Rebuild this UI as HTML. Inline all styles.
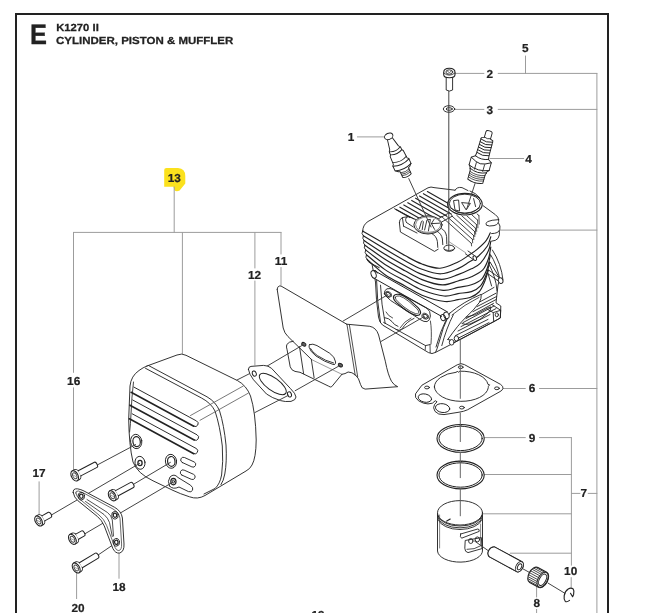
<!DOCTYPE html>
<html lang="en"><head><meta charset="utf-8"><title>K1270 II - Cylinder, Piston &amp; Muffler</title>
<style>
html,body{margin:0;padding:0;background:#fff}
body{width:647px;height:613px;overflow:hidden}
svg{display:block;will-change:transform}
text{font-family:"Liberation Sans",sans-serif;font-weight:bold;fill:#222;text-rendering:geometricPrecision}
path,line,ellipse,circle,polyline,rect{stroke-linecap:round;stroke-linejoin:round}
</style></head><body>
<svg width="647" height="613" viewBox="0 0 647 613">
<!-- page frame -->
<rect x="0" y="0" width="647" height="613" fill="#fff" stroke="none"/>
<path d="M16,614 V14 H608 V614" stroke="#222" stroke-width="2" fill="none" style="stroke-linecap:butt;stroke-linejoin:miter"/>
<!-- header -->
<text transform="translate(30.1,44.2) scale(0.9,1)" font-size="28.2" stroke="#222" stroke-width="0.35">E</text>
<text x="56.2" y="31.4" font-size="10.3" textLength="42.6" lengthAdjust="spacingAndGlyphs" stroke="#222" stroke-width="0.25">K1270 II</text>
<text x="56" y="44.2" font-size="10.3" textLength="177.3" lengthAdjust="spacingAndGlyphs" stroke="#222" stroke-width="0.25">CYLINDER, PISTON &amp; MUFFLER</text>
<!-- highlighted reference 13 -->
<path d="M166.5,168 H178 Q185.3,168.5 185.3,176 V183.4 L179.6,190.6 Q176,192.2 174.4,190 L173.4,186.7 H164.2 V170 Q164.2,168 166.5,168 Z" stroke="none" stroke-width="0" fill="#fbe11d" />
<!-- labels -->
<text transform="translate(174.3,182.3) scale(1.02,1)" font-size="11.6" text-anchor="middle" stroke="#222" stroke-width="0.2">13</text>
<text transform="translate(73.7,384.6) scale(1.02,1)" font-size="11.6" text-anchor="middle" stroke="#222" stroke-width="0.2">16</text>
<text transform="translate(39,477.1) scale(1.02,1)" font-size="11.6" text-anchor="middle" stroke="#222" stroke-width="0.2">17</text>
<text transform="translate(119.1,591.3) scale(1.02,1)" font-size="11.6" text-anchor="middle" stroke="#222" stroke-width="0.2">18</text>
<text transform="translate(78,611.9) scale(1.02,1)" font-size="11.6" text-anchor="middle" stroke="#222" stroke-width="0.2">20</text>
<text transform="translate(254.5,279.0) scale(1.02,1)" font-size="11.6" text-anchor="middle" stroke="#222" stroke-width="0.2">12</text>
<text transform="translate(281,264.9) scale(1.02,1)" font-size="11.6" text-anchor="middle" stroke="#222" stroke-width="0.2">11</text>
<text transform="translate(351,140.9) scale(1.02,1)" font-size="11.6" text-anchor="middle" stroke="#222" stroke-width="0.2">1</text>
<text transform="translate(489.9,78.0) scale(1.02,1)" font-size="11.6" text-anchor="middle" stroke="#222" stroke-width="0.2">2</text>
<text transform="translate(489.9,113.8) scale(1.02,1)" font-size="11.6" text-anchor="middle" stroke="#222" stroke-width="0.2">3</text>
<text transform="translate(528.6,162.8) scale(1.02,1)" font-size="11.6" text-anchor="middle" stroke="#222" stroke-width="0.2">4</text>
<text transform="translate(525.3,52.3) scale(1.02,1)" font-size="11.6" text-anchor="middle" stroke="#222" stroke-width="0.2">5</text>
<text transform="translate(532,392.3) scale(1.02,1)" font-size="11.6" text-anchor="middle" stroke="#222" stroke-width="0.2">6</text>
<text transform="translate(532,442.3) scale(1.02,1)" font-size="11.6" text-anchor="middle" stroke="#222" stroke-width="0.2">9</text>
<text transform="translate(583.8,497.1) scale(1.02,1)" font-size="11.6" text-anchor="middle" stroke="#222" stroke-width="0.2">7</text>
<text transform="translate(570.7,574.9) scale(1.02,1)" font-size="11.6" text-anchor="middle" stroke="#222" stroke-width="0.2">10</text>
<text transform="translate(536.8,606.6) scale(1.02,1)" font-size="11.6" text-anchor="middle" stroke="#222" stroke-width="0.2">8</text>
<text transform="translate(318,618.5) scale(1.02,1)" font-size="11.6" text-anchor="middle" stroke="#222" stroke-width="0.2">19</text>
<!-- leader lines -->
<line x1="174.2" y1="187" x2="174.2" y2="232.4" stroke="#9c9c9c" stroke-width="1"/>
<line x1="73.5" y1="232.4" x2="281" y2="232.4" stroke="#9c9c9c" stroke-width="1"/>
<line x1="73.5" y1="232.4" x2="73.5" y2="372.4" stroke="#9c9c9c" stroke-width="1"/>
<line x1="73.5" y1="387.8" x2="73.5" y2="470.8" stroke="#9c9c9c" stroke-width="1"/>
<line x1="182.4" y1="232.4" x2="182.4" y2="353.5" stroke="#9c9c9c" stroke-width="1"/>
<line x1="254.9" y1="232.4" x2="254.9" y2="268" stroke="#9c9c9c" stroke-width="1"/>
<line x1="254.9" y1="281" x2="254.9" y2="365" stroke="#9c9c9c" stroke-width="1"/>
<line x1="281" y1="232.4" x2="281" y2="254" stroke="#9c9c9c" stroke-width="1"/>
<line x1="281" y1="267.5" x2="281" y2="285" stroke="#9c9c9c" stroke-width="1"/>
<line x1="39.1" y1="481.8" x2="39.1" y2="514.8" stroke="#9c9c9c" stroke-width="1"/>
<line x1="119" y1="550" x2="119" y2="578.3" stroke="#9c9c9c" stroke-width="1"/>
<line x1="76.6" y1="573.6" x2="76.6" y2="598.6" stroke="#9c9c9c" stroke-width="1"/>
<line x1="357.4" y1="136.9" x2="384.7" y2="136.9" stroke="#9c9c9c" stroke-width="1"/>
<line x1="455.4" y1="73.4" x2="483.9" y2="73.4" stroke="#9c9c9c" stroke-width="1"/>
<line x1="498.2" y1="73.4" x2="596.9" y2="73.4" stroke="#9c9c9c" stroke-width="1"/>
<line x1="455.4" y1="109.4" x2="483.9" y2="109.4" stroke="#9c9c9c" stroke-width="1"/>
<line x1="498.2" y1="109.4" x2="596.9" y2="109.4" stroke="#9c9c9c" stroke-width="1"/>
<line x1="525.5" y1="56" x2="525.5" y2="73.4" stroke="#9c9c9c" stroke-width="1"/>
<line x1="490" y1="158.5" x2="523.7" y2="158.5" stroke="#9c9c9c" stroke-width="1"/>
<line x1="596.9" y1="73.4" x2="596.9" y2="614" stroke="#9c9c9c" stroke-width="1"/>
<line x1="499.4" y1="230.1" x2="596.9" y2="230.1" stroke="#9c9c9c" stroke-width="1"/>
<line x1="503" y1="388.5" x2="525.3" y2="388.5" stroke="#9c9c9c" stroke-width="1"/>
<line x1="539.5" y1="388.5" x2="596.9" y2="388.5" stroke="#9c9c9c" stroke-width="1"/>
<line x1="484.4" y1="437.6" x2="525.3" y2="437.6" stroke="#9c9c9c" stroke-width="1"/>
<line x1="539.5" y1="437.6" x2="571.4" y2="437.6" stroke="#9c9c9c" stroke-width="1"/>
<line x1="571.4" y1="437.6" x2="571.4" y2="565.2" stroke="#9c9c9c" stroke-width="1"/>
<line x1="571.2" y1="577.6" x2="571.2" y2="587.4" stroke="#9c9c9c" stroke-width="1"/>
<line x1="484" y1="474.5" x2="571.4" y2="474.5" stroke="#9c9c9c" stroke-width="1"/>
<line x1="483" y1="513.8" x2="571.4" y2="513.8" stroke="#9c9c9c" stroke-width="1"/>
<line x1="510.3" y1="553.2" x2="571.4" y2="553.2" stroke="#9c9c9c" stroke-width="1"/>
<line x1="571.4" y1="493.4" x2="580" y2="493.4" stroke="#9c9c9c" stroke-width="1"/>
<line x1="588.2" y1="493.4" x2="596.9" y2="493.4" stroke="#9c9c9c" stroke-width="1"/>
<line x1="536.6" y1="583" x2="536.6" y2="597" stroke="#9c9c9c" stroke-width="1"/>
<line x1="536.6" y1="609.4" x2="536.6" y2="614" stroke="#9c9c9c" stroke-width="1"/>
<!-- muffler (13) -->
<path d="M147,366 L177,355 Q182,353 186,355.3 L237.5,380.6 Q246.5,385.5 250.5,396 Q255.6,412 256.2,440 Q256,458 252,465 Q250,469 246,471 L205,495.5 Q197.5,499.8 189.5,496.8 Q180,493.8 173,490.4 L153,480.8 Q137.5,473.6 133,462 Q129,445 128.7,419 L130,386 Q131,376 139,370.5 Q143,367.5 147,366 Z" stroke="#222" stroke-width="0.92" fill="#fff" />
<path d="M148.5,365.5 L207,396.8 Q216,402 219.6,411 Q224,425 226,445 Q227,462 224.8,474 Q223.5,481 221,484.6" stroke="#222" stroke-width="0.92" fill="none" />
<path d="M145.5,368.3 L201.5,398 Q211,403 215,411 Q220,426 222.3,446 Q223.4,462 221.6,475 Q220,484 215,488.5 L204,494" stroke="#222" stroke-width="0.92" fill="none" />
<path d="M133.5,382 Q131.6,398 131,414 Q130.6,424 129.6,432" stroke="#222" stroke-width="0.85" fill="none" />
<line x1="190.5" y1="415.5" x2="243.3" y2="386" stroke="#555" stroke-width="0.8"/>
<line x1="200" y1="420.3" x2="248.2" y2="393.2" stroke="#555" stroke-width="0.8"/>
<path d="M133.9,387.1 L196.6,421.0 A2.9,2.9 0 0 1 193.8,426.2" stroke="#222" stroke-width="0.95" fill="none" />
<path d="M131.1,392.3 L193.8,426.2" stroke="#222" stroke-width="1.6" fill="none" />
<path d="M132.7,400.0 L197.0,434.8 A2.9,2.9 0 0 1 194.2,440.0" stroke="#222" stroke-width="0.95" fill="none" />
<path d="M129.9,405.2 L194.2,440.0" stroke="#222" stroke-width="1.6" fill="none" />
<path d="M132.2,413.8 L196.6,448.7 A2.9,2.9 0 0 1 193.8,453.7" stroke="#222" stroke-width="0.95" fill="none" />
<path d="M129.4,418.8 L193.8,453.7" stroke="#222" stroke-width="1.6" fill="none" />
<path d="M182.3,462.5 L191.9,466.9 A2.7,2.7 0 0 0 194.1,461.9 L184.5,457.5 A2.7,2.7 0 0 0 182.3,462.5 Z" stroke="#222" stroke-width="0.92" fill="none" />
<path d="M181.9,475.1 L191.3,479.3 A2.7,2.7 0 0 0 193.5,474.3 L184.1,470.1 A2.7,2.7 0 0 0 181.9,475.1 Z" stroke="#222" stroke-width="0.92" fill="none" />
<ellipse cx="136.2" cy="441.5" rx="5.6" ry="7.2" stroke="#222" stroke-width="0.92" fill="none" transform="rotate(-8 136.2 441.5)"/>
<ellipse cx="136.6" cy="441.6" rx="3.7" ry="5.0" stroke="#222" stroke-width="1.2" fill="none" transform="rotate(-8 136.6 441.6)"/>
<ellipse cx="140" cy="462.8" rx="5.0" ry="6.5" stroke="#222" stroke-width="0.92" fill="none" transform="rotate(-8 140 462.8)"/>
<ellipse cx="140" cy="463" rx="2.1" ry="2.6" stroke="#222" stroke-width="1.3" fill="none"/>
<ellipse cx="171" cy="461.3" rx="5.6" ry="7.0" stroke="#222" stroke-width="0.92" fill="none" transform="rotate(-8 171 461.3)"/>
<ellipse cx="171.3" cy="461.4" rx="3.7" ry="4.9" stroke="#222" stroke-width="1.2" fill="none" transform="rotate(-8 171.3 461.4)"/>
<path d="M169.5,486 Q167,481 170,477 Q174,473 178,477.5 L190.5,485.2 Q193.6,487.5 192.6,490.2 Q191.3,492.6 188.5,491.6 L179,487 Q173,490 169.5,486 Z" stroke="#222" stroke-width="0.92" fill="none" />
<ellipse cx="173.4" cy="481.6" rx="2.6" ry="3.2" stroke="#222" stroke-width="1.2" fill="none"/>
<ellipse cx="173.4" cy="481.6" rx="1.1" ry="1.4" stroke="#222" stroke-width="1" fill="none"/>
<!-- assembly axis lines (left group) -->
<line x1="96.5" y1="465.4" x2="135.6" y2="444.6" stroke="#444" stroke-width="1"/>
<line x1="50.4" y1="515.6" x2="139.6" y2="463.4" stroke="#444" stroke-width="1"/>
<line x1="133" y1="484.6" x2="170.4" y2="462.4" stroke="#444" stroke-width="1"/>
<line x1="83.7" y1="534.5" x2="172.8" y2="482.2" stroke="#444" stroke-width="1"/>
<line x1="98.4" y1="554.8" x2="116" y2="542.8" stroke="#444" stroke-width="1"/>
<!-- socket head bolts -->
<g transform="translate(74.7,475.8) rotate(-27.5)">
<path d="M0,-5.5 L2.6,-5.5 A3.3,5.5 0 0 1 2.6,5.5 L0,5.5" stroke="#222" stroke-width="1" fill="#fff" />
<path d="M5.40,-2.9 L23.70,-2.9 A1.5,2.9 0 0 1 23.70,2.9 L5.40,2.9" stroke="#222" stroke-width="1" fill="#fff" />
<ellipse cx="0" cy="0" rx="3.3" ry="5.5" stroke="#222" stroke-width="1.05" fill="#fff"/>
<ellipse cx="0.1" cy="0" rx="1.9139999999999997" ry="3.19" stroke="#444" stroke-width="0.9" fill="none"/>
<path d="M-0.99,-1.38 L0.99,1.65" stroke="#777" stroke-width="0.6" fill="none" />
</g>
<g transform="translate(38.6,521.0) rotate(-29)">
<path d="M0,-5.5 L2.6,-5.5 A3.3,5.5 0 0 1 2.6,5.5 L0,5.5" stroke="#222" stroke-width="1" fill="#fff" />
<path d="M5.40,-2.9 L12.70,-2.9 A1.5,2.9 0 0 1 12.70,2.9 L5.40,2.9" stroke="#222" stroke-width="1" fill="#fff" />
<ellipse cx="0" cy="0" rx="3.3" ry="5.5" stroke="#222" stroke-width="1.05" fill="#fff"/>
<ellipse cx="0.1" cy="0" rx="1.9139999999999997" ry="3.19" stroke="#444" stroke-width="0.9" fill="none"/>
<path d="M-0.99,-1.38 L0.99,1.65" stroke="#777" stroke-width="0.6" fill="none" />
</g>
<g transform="translate(112.2,495.8) rotate(-28.5)">
<path d="M0,-5.5 L2.6,-5.5 A3.3,5.5 0 0 1 2.6,5.5 L0,5.5" stroke="#222" stroke-width="1" fill="#fff" />
<path d="M5.40,-2.9 L22.70,-2.9 A1.5,2.9 0 0 1 22.70,2.9 L5.40,2.9" stroke="#222" stroke-width="1" fill="#fff" />
<ellipse cx="0" cy="0" rx="3.3" ry="5.5" stroke="#222" stroke-width="1.05" fill="#fff"/>
<ellipse cx="0.1" cy="0" rx="1.9139999999999997" ry="3.19" stroke="#444" stroke-width="0.9" fill="none"/>
<path d="M-0.99,-1.38 L0.99,1.65" stroke="#777" stroke-width="0.6" fill="none" />
</g>
<g transform="translate(72.4,539.3) rotate(-29)">
<path d="M0,-5.5 L2.6,-5.5 A3.3,5.5 0 0 1 2.6,5.5 L0,5.5" stroke="#222" stroke-width="1" fill="#fff" />
<path d="M5.40,-2.9 L12.20,-2.9 A1.5,2.9 0 0 1 12.20,2.9 L5.40,2.9" stroke="#222" stroke-width="1" fill="#fff" />
<ellipse cx="0" cy="0" rx="3.3" ry="5.5" stroke="#222" stroke-width="1.05" fill="#fff"/>
<ellipse cx="0.1" cy="0" rx="1.9139999999999997" ry="3.19" stroke="#444" stroke-width="0.9" fill="none"/>
<path d="M-0.99,-1.38 L0.99,1.65" stroke="#777" stroke-width="0.6" fill="none" />
</g>
<g transform="translate(76.2,568.0) rotate(-31)">
<path d="M0,-5.5 L2.6,-5.5 A3.3,5.5 0 0 1 2.6,5.5 L0,5.5" stroke="#222" stroke-width="1" fill="#fff" />
<path d="M5.40,-2.9 L24.10,-2.9 A1.5,2.9 0 0 1 24.10,2.9 L5.40,2.9" stroke="#222" stroke-width="1" fill="#fff" />
<ellipse cx="0" cy="0" rx="3.3" ry="5.5" stroke="#222" stroke-width="1.05" fill="#fff"/>
<ellipse cx="0.1" cy="0" rx="1.9139999999999997" ry="3.19" stroke="#444" stroke-width="0.9" fill="none"/>
<path d="M-0.99,-1.38 L0.99,1.65" stroke="#777" stroke-width="0.6" fill="none" />
</g>
<!-- bracket (18) -->
<path d="M73.2,492.6 Q72.6,488.4 77.4,488.8 Q81,489.4 84,491 L114.4,507.2 Q121.4,511 122.4,518 L124,544 Q124.4,551.4 119.8,553 Q115.4,553.8 112.8,548.4 L104.3,526 Q101.8,520 97.3,516.4 L77.8,500.6 Q74,497.4 73.2,492.6 Z" stroke="#222" stroke-width="0.92" fill="#fff" />
<path d="M75.8,493 Q75.4,490.6 78.6,491 L84,493.2 L113,509 Q119.2,512.4 120,518.4 L121.6,544 Q121.8,550 118.8,550.6 Q116.4,550.8 115,547.4 L106.6,525.4 Q104,519 99,515 L79.8,499.2 Q76.4,496.4 75.8,493 Z" stroke="#444" stroke-width="0.8" fill="none" />
<path d="M87,499.5 L107.5,512.5 Q111.5,515.5 112.3,520 L113.5,536" stroke="#222" stroke-width="0.8" fill="none" />
<path d="M85.5,501.5 L104,514.5 Q108,518 109.5,522.5 L112.3,536.5" stroke="#222" stroke-width="0.8" fill="none" />
<ellipse cx="81.3" cy="496.2" rx="3.2" ry="3.8" stroke="#222" stroke-width="0.9" fill="none" transform="rotate(-10 81.3 496.2)"/>
<ellipse cx="81.3" cy="496.2" rx="1.7" ry="2.1" stroke="#222" stroke-width="1.2" fill="none" transform="rotate(-10 81.3 496.2)"/>
<ellipse cx="115" cy="515.2" rx="3.2" ry="3.8" stroke="#222" stroke-width="0.9" fill="none" transform="rotate(-10 115 515.2)"/>
<ellipse cx="115" cy="515.2" rx="1.7" ry="2.1" stroke="#222" stroke-width="1.2" fill="none" transform="rotate(-10 115 515.2)"/>
<ellipse cx="116.3" cy="542.3" rx="3.2" ry="3.8" stroke="#222" stroke-width="0.9" fill="none" transform="rotate(-10 116.3 542.3)"/>
<ellipse cx="116.3" cy="542.3" rx="1.7" ry="2.1" stroke="#222" stroke-width="1.2" fill="none" transform="rotate(-10 116.3 542.3)"/>
<!-- gasket (12) -->
<path d="M248.4,369.4 Q248.3,366.6 251,366.4 L263.4,365.4 Q268,365.3 271.5,368.3 L290.5,388.6 Q295.6,393.6 296,397 Q296,400 291,401.4 Q285,402 280.5,400.6 Q272,398 266.5,394 L253.5,379.8 Q249,374 248.4,369.4 Z" stroke="#222" stroke-width="0.92" fill="#fff" />
<ellipse cx="272.8" cy="384" rx="16" ry="6.3" transform="rotate(36 272.8 384)" stroke="#222" stroke-width="1" fill="#fff"/>
<ellipse cx="254.3" cy="373.6" rx="1.9" ry="2.7" stroke="#222" stroke-width="1" fill="none" transform="rotate(-20 254.3 373.6)"/>
<ellipse cx="289.5" cy="394.4" rx="1.9" ry="2.7" stroke="#222" stroke-width="1" fill="none" transform="rotate(-20 289.5 394.4)"/>
<!-- heat shield (11) -->
<path d="M293.3,341.2 Q289,341.4 286.8,344.5 Q286,347 287.1,349.8 L290.2,366.8 Q291.5,370.6 295,371.4 L300,372.3 L328.7,386.2 Q330.3,387.6 331.8,386.6 L341.9,374.3" stroke="#222" stroke-width="0.92" fill="none" />
<line x1="299.5" y1="346.7" x2="303.6" y2="373.7" stroke="#222" stroke-width="0.9"/>
<line x1="311.3" y1="359.3" x2="314.1" y2="377.7" stroke="#222" stroke-width="0.9"/>
<path d="M277.2,289.4 Q277.4,285.4 281,286 L346.7,324.2" stroke="#222" stroke-width="0.92" fill="none" />
<path d="M277.2,289.4 L283.2,328 Q284.4,333.2 288,336.6 L311.6,359.6" stroke="#222" stroke-width="0.92" fill="none" />
<path d="M311.6,359.6 L341.9,374.3" stroke="#555" stroke-width="0.6" fill="none" />
<line x1="347" y1="324.6" x2="355.2" y2="375.2" stroke="#222" stroke-width="0.8"/>
<line x1="349.4" y1="324.8" x2="357.7" y2="376.8" stroke="#222" stroke-width="0.8"/>
<path d="M346.7,324.2 L369.8,326.3 Q376.3,327.6 378.6,335 L385.3,361.2 Q388,375 391.5,381.3 Q394,385.3 397.7,386.7 L365.1,389.1 Q361.3,388.6 360.5,384.4 Q359,378 355.5,375 Q352,372 348.1,372 L345,373.6 L341.9,374.3" stroke="#222" stroke-width="0.92" fill="none" />
<path d="M309.6,344.6 Q312.6,343.2 317,345.6 L329.6,353.2 Q335,356.8 335.6,362 Q335.7,365.2 333,364.4 Q324.6,362 316,356 Q310,351.4 309.1,347.2 Q308.9,345.3 309.6,344.6 Z" stroke="#222" stroke-width="0.92" fill="none" />
<path d="M310.6,348.6 Q312,352 317.4,355.6 Q325.5,361 333.6,363" stroke="#222" stroke-width="0.9" fill="none" />
<ellipse cx="303.8" cy="344.3" rx="2.3" ry="1.6" stroke="#222" stroke-width="1" fill="#666" transform="rotate(30 303.8 344.3)"/>
<ellipse cx="340.4" cy="365.1" rx="2.3" ry="1.6" stroke="#222" stroke-width="1" fill="#666" transform="rotate(30 340.4 365.1)"/>
<line x1="237" y1="380" x2="249.6" y2="373.6" stroke="#444" stroke-width="1"/>
<line x1="267.3" y1="366" x2="303" y2="344.9" stroke="#444" stroke-width="1"/>
<line x1="254.8" y1="412.6" x2="288.6" y2="395.2" stroke="#444" stroke-width="1"/>
<line x1="295.2" y1="390.7" x2="340" y2="365.4" stroke="#444" stroke-width="1"/>
<!-- bolt (2) and washer (3) -->
<path d="M446.2,76 V90 Q449.4,92.2 452.6,90 V76" stroke="#222" stroke-width="0.92" fill="#fff" />
<path d="M443.7,72.4 Q443.7,68.3 449.3,68.3 Q455,68.3 455,72.4 V74.4 Q455,77.7 449.3,77.7 Q443.7,77.7 443.7,74.4 Z" stroke="#222" stroke-width="1.1" fill="#fff" />
<ellipse cx="449.3" cy="72" rx="3.4" ry="2.2" stroke="#222" stroke-width="0.9" fill="none"/>
<path d="M443.8,73 Q449.3,77.6 454.9,73" stroke="#222" stroke-width="0.8" fill="none" />
<path d="M447.6,71.4 L449.4,72.6 L451.2,71.2" stroke="#222" stroke-width="0.7" fill="none" />
<ellipse cx="449" cy="109" rx="5.7" ry="3.3" stroke="#222" stroke-width="0.92" fill="#fff"/>
<ellipse cx="449.2" cy="109" rx="3.1" ry="1.3" stroke="#222" stroke-width="0.92" fill="none"/>
<line x1="448.8" y1="106" x2="448.8" y2="111" stroke="#444" stroke-width="1"/>
<!-- decompression valve (1) -->
<g transform="translate(388.7,136.3) rotate(-25)">
<path d="M-2.6,2.6 L-4.8,12.8 Q-6.2,13.8 -6.2,15.3 L-6.2,17.6 L-7.2,19 L-7.6,27.4 L-8.8,28.6 L-8.8,34 L-6.2,36.2 L-4.6,36.8 L-4.6,43.4 Q0,45.4 4.6,43.4 L4.6,36.8 L6.2,36.2 L8.8,34 L8.8,28.6 L7.6,27.4 L7.2,19 L6.2,17.6 L6.2,15.3 Q6.2,13.8 4.8,12.8 L2.6,2.6 Z" stroke="#222" stroke-width="0.92" fill="#fff" />
<ellipse cx="0" cy="0" rx="4.4" ry="3.1" stroke="#222" stroke-width="0.92" fill="#fff"/>
<path d="M-6,14.4 Q0,17.6 6,14.4" stroke="#222" stroke-width="0.9" fill="none" />
<path d="M-6.2,17.6 Q0,20.8 6.2,17.6" stroke="#222" stroke-width="0.9" fill="none" />
<path d="M-7.5,25.6 Q0,29.2 7.5,25.6" stroke="#222" stroke-width="0.9" fill="none" />
<path d="M-8.8,29 Q0,32.6 8.8,29" stroke="#222" stroke-width="0.9" fill="none" />
<path d="M-8.8,34 Q0,37.6 8.8,34" stroke="#222" stroke-width="0.9" fill="none" />
<path d="M-4.6,38.2 Q0,40.0 4.6,38.2" stroke="#222" stroke-width="0.7" fill="none" />
<path d="M-4.6,39.8 Q0,41.599999999999994 4.6,39.8" stroke="#222" stroke-width="0.7" fill="none" />
<path d="M-4.6,41.4 Q0,43.199999999999996 4.6,41.4" stroke="#222" stroke-width="0.7" fill="none" />
</g>
<!-- spark plug (4) -->
<g transform="translate(489.3,131.6) rotate(15.8)">
<path d="M-3.2,1 Q-3.2,-0.8 0,-0.8 Q3.2,-0.8 3.2,1 L3.2,7 L6,8 L6.4,24 L6.8,27 L10.4,29.5 L10.4,37.5 L8.6,39.5 L8.6,41 L7.8,42 L7.8,51.6 Q0,54.6 -7.8,51.6 L-7.8,42 L-8.6,41 L-8.6,39.5 L-10.4,37.5 L-10.4,29.5 L-6.8,27 L-6.4,24 L-6,8 L-3.2,7 Z" stroke="#222" stroke-width="0.92" fill="#fff" />
<path d="M-3.2,6.6 Q0,8.2 3.2,6.6" stroke="#222" stroke-width="0.8" fill="none" />
<path d="M-6.2,9.4 Q0,12.0 6.2,9.4" stroke="#222" stroke-width="0.9" fill="none" />
<path d="M-6.2,12.2 Q0,14.799999999999999 6.2,12.2" stroke="#222" stroke-width="0.9" fill="none" />
<path d="M-6.2,15 Q0,17.6 6.2,15" stroke="#222" stroke-width="0.9" fill="none" />
<path d="M-6.2,17.8 Q0,20.400000000000002 6.2,17.8" stroke="#222" stroke-width="0.9" fill="none" />
<path d="M-6.2,20.6 Q0,23.200000000000003 6.2,20.6" stroke="#222" stroke-width="0.9" fill="none" />
<path d="M-6.2,23.4 Q0,26.0 6.2,23.4" stroke="#222" stroke-width="0.9" fill="none" />
<path d="M-6.8,27 Q0,30 6.8,27" stroke="#222" stroke-width="0.9" fill="none" />
<path d="M-10.4,29.5 Q-4,33.4 0,33.4 Q4,33.4 10.4,29.5" stroke="#222" stroke-width="0.9" fill="none" />
<path d="M-10.4,37.5 Q0,42.2 10.4,37.5" stroke="#222" stroke-width="0.9" fill="none" />
<path d="M-4,33.3 V40.2 M4.5,33.2 V40.1" stroke="#222" stroke-width="0.8" fill="none" />
<path d="M-8.6,40.4 Q0,44.6 8.6,40.4" stroke="#222" stroke-width="0.9" fill="none" />
<path d="M-7.8,43.5 Q0,46.5 7.8,43.5" stroke="#222" stroke-width="0.7" fill="none" />
<path d="M-7.8,45.4 Q0,48.4 7.8,45.4" stroke="#222" stroke-width="0.7" fill="none" />
<path d="M-7.8,47.3 Q0,50.3 7.8,47.3" stroke="#222" stroke-width="0.7" fill="none" />
<path d="M-7.8,49.2 Q0,52.2 7.8,49.2" stroke="#222" stroke-width="0.7" fill="none" />
</g>
<!-- cylinder base (lower) -->
<path d="M373.5,272 L375.5,282 Q376,300 378.5,317 Q379.4,322.6 382.5,325 L428.5,352.6 Q432,354.6 435.5,352.4 L451,344.4 L494,321.6 L500.4,318 L500.8,306 L496,302.8 L498,285 L500,278.6 L490,262 L372,262 Z" stroke="#222" stroke-width="0.92" fill="#fff" />
<path d="M376.6,280.5 Q377,302 380.5,322.4" stroke="#222" stroke-width="0.92" fill="none" />
<path d="M380.5,285.2 Q381.2,304 385.2,323.6" stroke="#222" stroke-width="0.9" fill="none" />
<path d="M384.4,293.7 Q384,290 387,288.8 Q390,288 393,289.6 L427,308.4 Q430.6,311 430.4,316 Q430,320.6 427,321.6 Q424,322 421,320 L394.5,303 Q390,300.4 388,298 Q385,295.6 384.4,293.7 Z" stroke="#222" stroke-width="0.92" fill="none" />
<path d="M393.5,296.6 Q394.5,293.6 399.4,294.4 Q404,295.6 410,300.4 L418,307.6 Q421.2,311 420.4,313.6 Q419.4,316 416,315.4 Q410,313.6 403,308 L396.6,302.6 Q393,299.4 393.5,296.6 Z" stroke="#222" stroke-width="1.2" fill="none" />
<path d="M395.3,297.2 Q396,295.4 399.4,296 Q403.4,297 409,301.6 L416.8,308.6 Q419.2,311.2 418.8,312.8 Q418,314.2 415.8,313.8 Q410.4,312 404,307 L397.8,301.6 Q395,299.2 395.3,297.2 Z" stroke="#222" stroke-width="0.8" fill="none" />
<ellipse cx="388.2" cy="294.4" rx="2.3" ry="1.8" stroke="#222" stroke-width="0.92" fill="none" transform="rotate(30 388.2 294.4)"/>
<ellipse cx="425.2" cy="316.2" rx="2.3" ry="1.8" stroke="#222" stroke-width="0.92" fill="none" transform="rotate(30 425.2 316.2)"/>
<ellipse cx="388.2" cy="294.4" rx="3.6" ry="2.8" stroke="#222" stroke-width="0.7" fill="none" transform="rotate(30 388.2 294.4)"/>
<ellipse cx="425.2" cy="316.2" rx="3.6" ry="2.8" stroke="#222" stroke-width="0.7" fill="none" transform="rotate(30 425.2 316.2)"/>
<path d="M383.6,322.4 L425.5,345.6 L430,344.6" stroke="#222" stroke-width="0.9" fill="none" />
<path d="M414,318.4 Q406.5,321.6 402,329 Q399.4,331.4 396,329.6" stroke="#222" stroke-width="0.9" fill="none" />
<path d="M411,318 Q404,321.4 400,328" stroke="#222" stroke-width="0.8" fill="none" />
<path d="M384.6,317.6 Q389,318 392,321.6 Q394,325 398,326.4" stroke="#222" stroke-width="0.9" fill="none" />
<path d="M386,312 Q388,316 392.6,318" stroke="#222" stroke-width="0.8" fill="none" />
<path d="M425.5,345.6 L425.2,349.8 M430,344.6 L430.2,352.6" stroke="#222" stroke-width="0.8" fill="none" />
<path d="M430.4,321 Q432,330 431,344" stroke="#222" stroke-width="0.8" fill="none" />
<path d="M449.8,313 Q442.6,327 438.4,344.4 Q437.2,349 435.5,352.4" stroke="#222" stroke-width="0.92" fill="none" />
<path d="M446.6,318.6 Q440.4,331 436,347" stroke="#222" stroke-width="0.9" fill="none" />
<path d="M453.4,314.6 Q446.4,328 441.8,345.6" stroke="#222" stroke-width="0.9" fill="none" />
<path d="M449.9,313.1 Q463,302 481.2,294.3 Q481.6,298.4 479.4,302.4 Q474,310 465.9,317.3 Q458,325 447.8,339.5" stroke="#222" stroke-width="0.92" fill="none" />
<path d="M452,315 Q464.6,304.4 479,297.4" stroke="#222" stroke-width="0.8" fill="none" />
<path d="M465.9,317.3 Q476,315.6 484,310 Q489,307 491,306.9 Q491,310 488,313 Q481,320 470,324 Q465,325 462,323.6" stroke="#222" stroke-width="0.9" fill="none" />
<line x1="466" y1="318.6" x2="493.5" y2="303.4" stroke="#222" stroke-width="0.9"/>
<line x1="463" y1="322.6" x2="494" y2="306" stroke="#222" stroke-width="0.9"/>
<line x1="461" y1="326.6" x2="496" y2="308.6" stroke="#222" stroke-width="0.9"/>
<line x1="458" y1="331" x2="490" y2="314.5" stroke="#222" stroke-width="0.9"/>
<line x1="455.5" y1="335.6" x2="488" y2="319.4" stroke="#222" stroke-width="0.9"/>
<path d="M481.5,294.6 L494,287.4 M479.6,302 L496,293.2 M477,306.6 L496.4,296.6 M473,311.6 L496,299.6" stroke="#222" stroke-width="0.9" fill="none" />
<path d="M492.3,304.8 L500.7,310.3 L500.2,318 L493.7,321.6 L452,343.6 M493.7,321.6 L493.2,312.6 L500.7,310.3 M493.2,312.6 L487,309" stroke="#222" stroke-width="0.9" fill="none" />
<ellipse cx="496.8" cy="314.8" rx="1.6" ry="2" stroke="#222" stroke-width="0.9" fill="none"/>
<ellipse cx="451.7" cy="342.3" rx="2.4" ry="2.8" stroke="#222" stroke-width="0.92" fill="#fff"/>
<ellipse cx="456.4" cy="338.4" rx="2.2" ry="2.6" stroke="#222" stroke-width="0.92" fill="#fff"/>
<path d="M447.8,339.5 L450,340 M458.6,338 L489,322.6" stroke="#222" stroke-width="0.9" fill="none" />
<path d="M489.6,253 Q498,266 500,281" stroke="#222" stroke-width="0.9" fill="none" />
<path d="M492.4,250 Q501.4,264 503,280" stroke="#222" stroke-width="0.9" fill="none" />
<path d="M486,259 Q493,270 496,283.4 L497,291" stroke="#222" stroke-width="0.9" fill="none" />
<path d="M483,263 Q489,273 491.6,286" stroke="#222" stroke-width="0.9" fill="none" />
<path d="M486.6,268.6 L499.4,277.8" stroke="#222" stroke-width="0.9" fill="none" />
<path d="M484.8,271.6 L497.8,280.6" stroke="#222" stroke-width="0.9" fill="none" />
<ellipse cx="500.6" cy="280.6" rx="2.3" ry="2.9" stroke="#222" stroke-width="0.92" fill="#fff" transform="rotate(-20 500.6 280.6)"/>
<path d="M374.4,270.6 L447.6,312 M373.6,278 L441.6,316.4" stroke="#222" stroke-width="1" fill="none" />
<path d="M372,276 Q370.8,272.4 373.4,270.4 Q376.4,269.6 377.4,273" stroke="#222" stroke-width="1" fill="none" />
<ellipse cx="373.6" cy="274.4" rx="2.4" ry="3.9" stroke="#222" stroke-width="0.92" fill="#fff" transform="rotate(-20 373.6 274.4)"/>
<ellipse cx="446.4" cy="315.4" rx="2.6" ry="3.3" stroke="#222" stroke-width="0.92" fill="#fff" transform="rotate(-20 446.4 315.4)"/>
<ellipse cx="443" cy="317.6" rx="2.4" ry="3.1" stroke="#222" stroke-width="0.92" fill="none" transform="rotate(-20 443 317.6)"/>
<!-- cylinder head / fins -->
<path d="M362.5,231.0 L364.0,226.5 L368.0,221.5 L428.0,187.8 L431.0,187.0 L434.0,187.6 L455.0,190.0 L462.0,189.6 L470.0,191.0 L483.0,205.6 L495.4,214.7 L498.7,219.0 L499.6,229.0 L498.0,236.0 L492.0,241.5 L488.5,270.0 L484.5,282.0 L479.0,292.0 L470.0,297.5 L458.0,299.6 L444.8,301.5 L422.0,295.2 L405.0,285.9 L385.0,274.7 L367.1,259.4 Z" stroke="none" stroke-width="0" fill="#fff" />
<path d="M362.5,231.0 C366.2,233.2 377.9,239.8 385.0,243.9 C392.1,248.0 398.8,252.2 405.0,255.6 C411.2,258.9 416.2,261.9 422.0,264.0 C427.8,266.1 434.0,268.5 440.0,268.2 C446.0,267.9 453.1,264.2 458.0,262.0 C462.9,259.8 465.9,257.2 469.1,255.1 C472.3,253.0 474.2,251.9 477.1,249.4 C480.0,246.9 484.1,243.1 486.3,240.3 C488.5,237.5 489.6,234.1 490.3,232.8" stroke="#222" stroke-width="1.15" fill="none" />
<path d="M363.3,235.7 C366.9,237.9 378.1,244.8 385.0,249.0 C391.9,253.2 398.8,257.3 405.0,260.7 C411.2,264.1 416.0,267.0 422.0,269.2 C428.0,271.4 434.8,273.9 440.8,273.8 C446.8,273.7 453.3,270.6 458.0,268.6 C462.7,266.6 465.7,264.1 469.1,262.0 C472.5,259.9 475.2,258.9 478.3,256.2 C481.4,253.5 485.3,249.2 487.4,246.0 C489.5,242.8 490.2,238.3 490.8,236.8" stroke="#222" stroke-width="1.15" fill="none" />
<path d="M364.0,240.5 C367.5,242.8 378.2,250.0 385.0,254.2 C391.8,258.4 398.8,262.3 405.0,265.7 C411.2,269.1 415.9,272.1 422.0,274.4 C428.1,276.7 435.6,279.3 441.6,279.3 C447.6,279.3 453.0,276.4 458.0,274.6 C463.0,272.9 467.6,270.7 471.4,268.8 C475.1,266.9 477.6,266.2 480.5,263.1 C483.4,260.1 486.8,254.1 488.5,250.5 C490.2,246.9 490.4,242.9 490.8,241.4" stroke="#222" stroke-width="1.15" fill="none" />
<path d="M364.8,245.2 C368.2,247.5 378.3,255.0 385.0,259.3 C391.7,263.6 398.8,267.4 405.0,270.8 C411.2,274.2 415.8,277.2 422.0,279.6 C428.2,282.0 436.4,284.7 442.4,284.9 C448.4,285.1 453.2,282.4 458.0,281.0 C462.8,279.6 467.3,278.7 471.4,276.8 C475.5,274.9 479.9,272.9 482.8,269.9 C485.7,266.8 487.2,262.3 488.5,258.5 C489.8,254.7 490.4,249.0 490.8,247.1" stroke="#222" stroke-width="1.15" fill="none" />
<path d="M365.6,249.9 C368.8,252.3 378.4,260.1 385.0,264.4 C391.6,268.7 398.8,272.4 405.0,275.8 C411.2,279.2 415.6,282.4 422.0,284.8 C428.4,287.2 437.2,290.0 443.2,290.4 C449.2,290.8 453.3,288.3 458.0,287.4 C462.7,286.5 467.4,286.2 471.4,284.8 C475.3,283.4 479.0,282.0 481.7,279.1 C484.4,276.2 486.0,271.7 487.4,267.7 C488.8,263.7 489.8,257.2 490.3,255.1" stroke="#222" stroke-width="1.15" fill="none" />
<path d="M366.4,254.7 C369.5,257.2 378.6,265.2 385.0,269.6 C391.4,274.0 398.8,277.5 405.0,280.9 C411.2,284.3 415.5,287.5 422.0,290.0 C428.5,292.5 438.0,295.4 444.0,296.0 C450.0,296.6 453.4,294.3 458.0,293.6 C462.6,292.9 467.6,292.9 471.4,291.6 C475.1,290.3 478.0,288.8 480.5,285.9 C483.0,283.0 484.8,278.5 486.3,274.5 C487.8,270.5 489.1,264.1 489.7,262.0" stroke="#222" stroke-width="1.15" fill="none" />
<path d="M367.1,259.4 C370.1,261.9 378.7,270.3 385.0,274.7 C391.3,279.1 398.8,282.5 405.0,285.9 C411.2,289.3 415.4,292.6 422.0,295.2 C428.6,297.8 438.8,300.8 444.8,301.5 C450.8,302.2 453.8,300.3 458.0,299.6 C462.2,298.9 466.5,298.8 470.0,297.5 C473.5,296.2 476.6,294.6 479.0,292.0 C481.4,289.4 482.9,285.7 484.5,282.0 C486.1,278.3 487.8,272.0 488.5,270.0" stroke="#222" stroke-width="1.15" fill="none" />
<path d="M362.5,231.0 Q360.9,233.9 363.3,235.7" stroke="#222" stroke-width="0.92" fill="none" />
<path d="M363.3,235.7 Q361.7,238.7 364.0,240.5" stroke="#222" stroke-width="0.92" fill="none" />
<path d="M364.0,240.5 Q362.4,243.4 364.8,245.2" stroke="#222" stroke-width="0.92" fill="none" />
<path d="M364.8,245.2 Q363.2,248.2 365.6,249.9" stroke="#222" stroke-width="0.92" fill="none" />
<path d="M365.6,249.9 Q364.0,252.9 366.4,254.7" stroke="#222" stroke-width="0.92" fill="none" />
<path d="M366.4,254.7 Q364.8,257.6 367.1,259.4" stroke="#222" stroke-width="0.92" fill="none" />
<path d="M367.1,259.4 Q367.6,261.6 370,263 L379.2,267.6" stroke="#222" stroke-width="1" fill="none" />
<path d="M362.7,231.5 Q362.6,225 368,221.5 L428,187.8 Q431,186.4 434,187.6 L455,190.2" stroke="#222" stroke-width="0.92" fill="none" />
<path d="M483,205.6 L495.4,214.7 Q498.6,217 498.7,219.6" stroke="#222" stroke-width="0.92" fill="none" />
<path d="M498.7,219.6 Q499.4,224.4 494,225.6 Q488.6,226.6 486.4,225.2 Q485.2,223.2 487.6,221.6 Q491,220 498.7,219.6" stroke="#222" stroke-width="0.92" fill="none" />
<path d="M498.6,223 Q500.8,226 499.8,229.4 Q498.6,233.6 491.6,233.6" stroke="#222" stroke-width="0.92" fill="none" />
<path d="M499.4,231 Q500.2,235 498,238.4 Q496,241 491.6,241.2" stroke="#222" stroke-width="0.92" fill="none" />
<line x1="396.0" y1="209.4" x2="410.0" y2="217.4" stroke="#222" stroke-width="1.1"/>
<line x1="399.9" y1="207.2" x2="418.9" y2="218.0" stroke="#222" stroke-width="1.1"/>
<line x1="403.8" y1="204.9" x2="426.8" y2="218.0" stroke="#222" stroke-width="1.1"/>
<line x1="407.8" y1="202.7" x2="433.8" y2="217.5" stroke="#222" stroke-width="1.1"/>
<line x1="411.7" y1="200.4" x2="440.7" y2="217.0" stroke="#222" stroke-width="1.1"/>
<line x1="415.6" y1="198.2" x2="446.6" y2="215.9" stroke="#222" stroke-width="1.1"/>
<line x1="419.5" y1="196.0" x2="451.5" y2="214.2" stroke="#222" stroke-width="1.1"/>
<line x1="423.4" y1="193.7" x2="453.4" y2="210.8" stroke="#222" stroke-width="1.1"/>
<line x1="427.4" y1="191.5" x2="452.4" y2="205.7" stroke="#222" stroke-width="1.1"/>
<path d="M394.5,208.7 L409.3,216.4 M399.4,222.6 L400.4,232 L434.5,251.4 L438.2,249.2 M399.4,222.6 Q399,219.2 402.4,217.6 L409.3,216.4 L414,219 M402.4,217.6 L403.6,226.2 M403.6,226.2 L417,233" stroke="#222" stroke-width="0.9" fill="none" />
<path d="M408.2,216.4 L416,219.6 M406.6,222.6 L413.4,227 M408.2,216.4 Q405.4,216.8 405.6,219.8 Q405.8,222.4 406.6,222.6" stroke="#222" stroke-width="0.9" fill="none" />
<path d="M431.6,233.4 Q436.6,236 437.4,241.6 L437.8,247.4 M436.6,231 Q441.6,233.6 442.4,239 L442.8,244.6 M441.6,228.6 Q446,231 446.6,236.6 L446.8,244" stroke="#222" stroke-width="0.9" fill="none" />
<ellipse cx="449.2" cy="248.2" rx="5.4" ry="3.1" stroke="#222" stroke-width="0.92" fill="#fff"/>
<path d="M444.6,249.6 Q449.2,252 453.8,249.6" stroke="#222" stroke-width="0.8" fill="none" />
<path d="M438.6,218.6 L449.6,212.6 M441.6,222 L452.6,216" stroke="#222" stroke-width="0.9" fill="none" />
<path d="M441.4,216.4 L471.3,243.3" stroke="#222" stroke-width="0.85" fill="none" />
<line x1="471.3" y1="243.3" x2="471.6" y2="245.9" stroke="#222" stroke-width="0.8"/>
<path d="M446.5,216.1 L472.4,239.3" stroke="#222" stroke-width="0.85" fill="none" />
<line x1="472.4" y1="239.3" x2="472.7" y2="242.8" stroke="#222" stroke-width="0.8"/>
<path d="M451.6,215.7 L473.5,235.4" stroke="#222" stroke-width="0.85" fill="none" />
<line x1="473.5" y1="235.4" x2="473.8" y2="239.7" stroke="#222" stroke-width="0.8"/>
<path d="M456.7,215.3 L474.5,231.4" stroke="#222" stroke-width="0.85" fill="none" />
<line x1="474.5" y1="231.4" x2="474.8" y2="236.6" stroke="#222" stroke-width="0.8"/>
<path d="M461.8,215.8 L475.4,228.1" stroke="#222" stroke-width="0.85" fill="none" />
<line x1="475.4" y1="228.1" x2="475.7" y2="234.1" stroke="#222" stroke-width="0.8"/>
<path d="M466.9,215.9 L476.4,224.5" stroke="#222" stroke-width="0.85" fill="none" />
<line x1="476.4" y1="224.5" x2="476.7" y2="231.3" stroke="#222" stroke-width="0.8"/>
<path d="M472.0,215.0 L477.6,220.1" stroke="#222" stroke-width="0.85" fill="none" />
<line x1="477.6" y1="220.1" x2="477.9" y2="227.8" stroke="#222" stroke-width="0.8"/>
<path d="M477.1,214.0 L478.9,215.5" stroke="#222" stroke-width="0.85" fill="none" />
<line x1="478.9" y1="215.5" x2="479.2" y2="224.1" stroke="#222" stroke-width="0.8"/>
<path d="M465.4,253.8 L473.4,259.6 M468,251 L476,256.6" stroke="#222" stroke-width="0.9" fill="none" />
<ellipse cx="474.8" cy="258.2" rx="1.6" ry="2.4" stroke="#222" stroke-width="0.92" fill="#fff" transform="rotate(-25 474.8 258.2)"/>
<line x1="449.5" y1="242" x2="466" y2="253" stroke="#777" stroke-width="0.7"/>
<ellipse cx="428" cy="224.9" rx="14.1" ry="9.1" stroke="#222" stroke-width="1" fill="#fff"/>
<ellipse cx="428.2" cy="224.6" rx="12.6" ry="7.8" stroke="#555" stroke-width="0.7" fill="none"/>
<path d="M416,229 Q428,238.4 440.4,229" stroke="#555" stroke-width="0.7" fill="none" />
<path d="M419.4,228.6 L421.4,221.6 Q422.4,219.8 423.4,221.8 L422.2,229.6 M424.6,230 L427,219.8 L430.4,219.4 L428.4,231 M431.4,223.6 L439.4,223.2 M431.4,223.6 L434.6,229.4 M431.4,223.6 L434,219.4" stroke="#222" stroke-width="0.9" fill="none" />
<ellipse cx="464.9" cy="204.2" rx="17.3" ry="10.8" stroke="#222" stroke-width="1.1" fill="#fff"/>
<ellipse cx="464.9" cy="203.6" rx="15.6" ry="9.4" stroke="#222" stroke-width="0.9" fill="none"/>
<path d="M450,207.6 Q464.9,220.4 480,207.6" stroke="#222" stroke-width="0.9" fill="none" />
<path d="M453.6,201 L455,210 L459.6,211 L458.6,200.4 Z M462,202.6 L470.4,203.4 L466.4,209.6 Z M473.6,198.6 L475.6,206.6" stroke="#222" stroke-width="0.9" fill="none" />
<path d="M455,190.2 Q457,186.6 462,187.6 L468,190.6 M470,191 Q476,193 479.6,197.6" stroke="#222" stroke-width="0.9" fill="none" />
<line x1="448.8" y1="91.4" x2="448.8" y2="106" stroke="#444" stroke-width="1"/>
<line x1="448.8" y1="111.6" x2="448.8" y2="249.6" stroke="#444" stroke-width="1"/>
<line x1="408.8" y1="178.6" x2="431" y2="227" stroke="#444" stroke-width="1"/>
<line x1="475.2" y1="183" x2="466.6" y2="209.4" stroke="#444" stroke-width="1"/>
<!-- axis lines shield -> cylinder port holes -->
<line x1="343" y1="321.1" x2="388" y2="294.6" stroke="#444" stroke-width="1"/>
<line x1="380.8" y1="341.6" x2="424.4" y2="316.4" stroke="#444" stroke-width="1"/>
<!-- vertical assembly axis (cylinder -> piston) -->
<line x1="460.3" y1="340" x2="460.3" y2="366" stroke="#666" stroke-width="1"/>
<!-- base gasket (6) -->
<path d="M457.6,364.6 Q461,362.6 464.4,364.6 L500.6,384.4 Q503.6,386.4 502.9,388.6 Q502.4,390.4 500,391.6 L467.5,409.8 Q463.6,411.6 459,412.2 L444,414.6 Q438,415 435,411.4 Q432.4,407.6 434.6,404.4 L437,401.8 L435.3,400.7 L432.4,403.2 Q428,404.6 423.6,403.2 Q417.6,401.4 415.6,397.4 Q414.4,393.6 417.6,391 L421.6,385.6 Z" stroke="#222" stroke-width="0.92" fill="#fff" />
<path d="M434.4,387 A27,14.9 0 0 1 456.6,372.2 L457.4,371 L458.6,372.4 L459.8,371.2 A27,14.9 0 0 1 488,384.4 L489.6,384.8 L488.4,386.4 L488.3,387.6 A27,14.9 0 0 1 434.4,387 Z" stroke="#222" stroke-width="0.92" fill="none" />
<ellipse cx="460.7" cy="367.2" rx="2.4" ry="1.4" stroke="#222" stroke-width="0.92" fill="none"/>
<ellipse cx="496.9" cy="388.3" rx="2.4" ry="1.4" stroke="#222" stroke-width="0.92" fill="none"/>
<ellipse cx="461.9" cy="407.6" rx="2.4" ry="1.4" stroke="#222" stroke-width="0.92" fill="none"/>
<ellipse cx="427" cy="387.5" rx="2.4" ry="1.4" stroke="#222" stroke-width="0.92" fill="none"/>
<ellipse cx="424.9" cy="398.1" rx="6.8" ry="4.1" stroke="#222" stroke-width="0.92" fill="none" transform="rotate(12 424.9 398.1)"/>
<ellipse cx="442.6" cy="408.1" rx="7.2" ry="4.4" stroke="#222" stroke-width="0.92" fill="none" transform="rotate(8 442.6 408.1)"/>
<line x1="460.3" y1="365" x2="460.3" y2="398.4" stroke="#666" stroke-width="1"/>
<line x1="460.3" y1="413" x2="460.3" y2="424.4" stroke="#666" stroke-width="1"/>
<!-- piston rings (9) -->
<ellipse cx="460.6" cy="438.4" rx="23.6" ry="13.9" stroke="#222" stroke-width="1.1" fill="#fff"/>
<ellipse cx="460.6" cy="438.4" rx="21.6" ry="12.2" stroke="#222" stroke-width="1" fill="none"/>
<path d="M459.4,424.5 l1.2,1.6 l1.2,-1.6" stroke="#222" stroke-width="0.8" fill="none" />
<ellipse cx="460.6" cy="475" rx="23.6" ry="13.9" stroke="#222" stroke-width="1.1" fill="#fff"/>
<ellipse cx="460.6" cy="475" rx="21.6" ry="12.2" stroke="#222" stroke-width="1" fill="none"/>
<path d="M459.4,461.1 l1.2,1.6 l1.2,-1.6" stroke="#222" stroke-width="0.8" fill="none" />
<line x1="460.3" y1="424.4" x2="460.3" y2="441.6" stroke="#666" stroke-width="1"/>
<line x1="460.3" y1="452.4" x2="460.3" y2="477.7" stroke="#666" stroke-width="1"/>
<line x1="460.3" y1="489.4" x2="460.3" y2="500.6" stroke="#666" stroke-width="1"/>
<!-- piston -->
<path d="M437.5,513.4 V551 A22.5,11.6 0 0 0 482.5,550 V513.4" stroke="#222" stroke-width="0.92" fill="#fff" />
<ellipse cx="460" cy="512.8" rx="22.5" ry="12.2" stroke="#222" stroke-width="0.92" fill="#fff"/>
<path d="M437.6,515 A22.5,12.2 0 0 0 482.4,515" stroke="#222" stroke-width="0.9" fill="none" />
<path d="M437.6,516.8 A22.5,12.2 0 0 0 482.4,516.8" stroke="#222" stroke-width="0.9" fill="none" />
<path d="M438,519.6 A22.4,12.2 0 0 0 482,519.6" stroke="#222" stroke-width="0.9" fill="none" />
<path d="M439.6,515 V548 M480.6,524 V545" stroke="#555" stroke-width="0.7" fill="none" />
<path d="M460.6,534 L477.8,529 Q479.6,529 479.2,531.4 L461.6,538.2 Q459.6,537 460.6,534 Z" stroke="#222" stroke-width="0.9" fill="none" />
<path d="M465.6,540.4 L481.4,537.6 L482,548.6 L468,552.6 Q464.8,552 464.8,548.6 Z" stroke="#222" stroke-width="0.9" fill="none" />
<path d="M467,549.4 Q474,550 481.6,545.4" stroke="#222" stroke-width="0.8" fill="none" />
<ellipse cx="470.8" cy="541" rx="2.2" ry="2.5" stroke="#222" stroke-width="0.9" fill="none"/>
<ellipse cx="477.4" cy="539.4" rx="2.2" ry="2.5" stroke="#222" stroke-width="0.9" fill="none"/>
<line x1="446.8" y1="521.1" x2="450.2" y2="519.1" stroke="#222" stroke-width="1.2"/>
<line x1="460.3" y1="500.6" x2="460.3" y2="515.8" stroke="#666" stroke-width="1"/>
<!-- piston pin, needle bearing (8), circlip (10) -->
<line x1="474.5" y1="541" x2="489" y2="551.2" stroke="#444" stroke-width="1"/>
<line x1="522.5" y1="568.6" x2="529" y2="572.2" stroke="#444" stroke-width="1"/>
<line x1="548.2" y1="583.2" x2="564.9" y2="593.3" stroke="#444" stroke-width="1"/>
<g transform="translate(491.7,551.7) rotate(28.5)">
<path d="M0.6,-5.6 L31.5,-5.6 M0.6,5.6 L31.5,5.6 M0.6,-5.6 Q-3.2,-4.6 -3.2,0 Q-3.2,4.6 0.6,5.6" stroke="#222" stroke-width="0.92" fill="none" />
<path d="M0.6,-5.6 L31.5,-5.6 A3.4,5.6 0 0 1 31.5,5.6 L0.6,5.6 Q-3.2,4.6 -3.2,0 Q-3.2,-4.6 0.6,-5.6 Z" fill="#fff" stroke="#222" stroke-width="1"/>
<ellipse cx="31.5" cy="0" rx="3.4" ry="5.6" stroke="#222" stroke-width="0.92" fill="#fff"/>
<ellipse cx="31.7" cy="0" rx="1.9" ry="3.2" stroke="#222" stroke-width="0.9" fill="none"/>
</g>
<g transform="translate(538.2,577.4) rotate(28.5)">
<path d="M-5,-8.6 L5,-8.6 A5,8.6 0 0 1 5,8.6 L-5,8.6 A5,8.6 0 0 1 -5,-8.6 Z" fill="#fff" stroke="#222" stroke-width="1.2"/>
<ellipse cx="5" cy="0" rx="4.6" ry="8.2" stroke="#222" stroke-width="1.1" fill="#fff"/>
<ellipse cx="5" cy="0" rx="3.2" ry="6.2" stroke="#222" stroke-width="1" fill="none"/>
<line x1="-6.54" y1="-7.6" x2="3.27" y2="-7.6" stroke="#333" stroke-width="0.8"/>
<line x1="-7.78" y1="-6" x2="1.86" y2="-6" stroke="#333" stroke-width="0.8"/>
<line x1="-8.56" y1="-4.2" x2="1.05" y2="-4.2" stroke="#333" stroke-width="0.8"/>
<line x1="-9.03" y1="-2.2" x2="0.57" y2="-2.2" stroke="#333" stroke-width="0.8"/>
<line x1="-9.2" y1="0" x2="0.4" y2="0" stroke="#333" stroke-width="0.8"/>
<line x1="-9.03" y1="2.2" x2="0.57" y2="2.2" stroke="#333" stroke-width="0.8"/>
<line x1="-8.56" y1="4.2" x2="1.05" y2="4.2" stroke="#333" stroke-width="0.8"/>
<line x1="-7.78" y1="6" x2="1.86" y2="6" stroke="#333" stroke-width="0.8"/>
<line x1="-6.54" y1="7.6" x2="3.27" y2="7.6" stroke="#333" stroke-width="0.8"/>
</g>
<path d="M569.5,600.4 Q567,602.4 565.3,601.4 Q563.6,599.6 564.2,595.6 Q565,591 568.2,589 Q571,587.4 573.2,589 Q574.6,591 573.6,594.4 L572.6,596.7 L570.5,593.3" stroke="#222" stroke-width="1.15" fill="none" />
</svg>
</body></html>
